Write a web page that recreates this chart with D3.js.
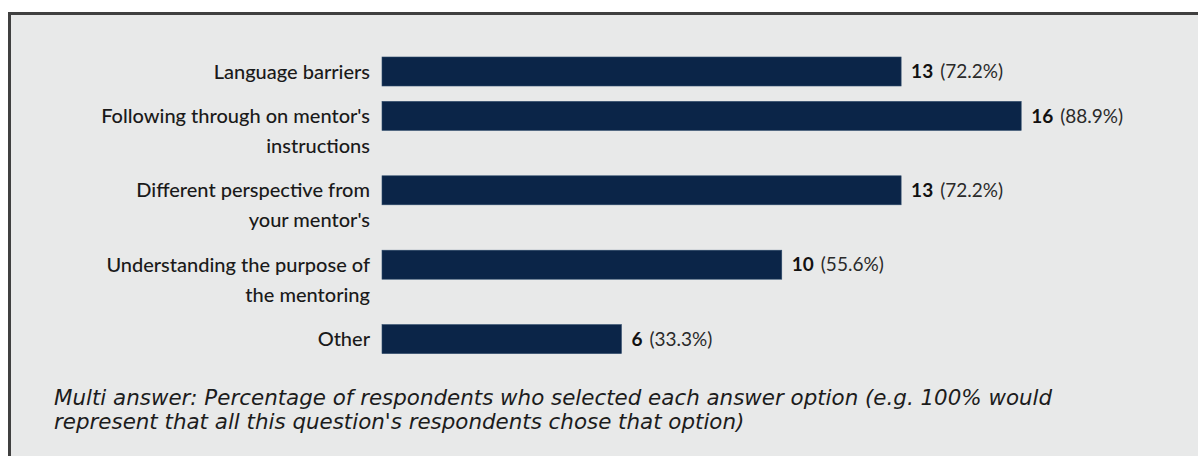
<!DOCTYPE html>
<html>
<head>
<meta charset="utf-8">
<script src="https://cdn.jsdelivr.net/npm/d3@7"></script>
<style>
  body { margin: 0; background: #fff; }
  svg { display: block; }
</style>
</head>
<body>
<div id="chart"></div>
<script>
const categories = ["Language barriers", "Following through on mentor's instructions", "Different perspective from your mentor's", "Understanding the purpose of the mentoring", "Other"];
const labelLines = [
    ["Language barriers"],
    ["Following through on mentor's", "instructions"],
    ["Different perspective from", "your mentor's"],
    ["Understanding the purpose of", "the mentoring"],
    ["Other"]
];
const counts = [13, 16, 13, 10, 6];
const percents = [72.2, 88.9, 72.2, 55.6, 33.3];
const footnote = [
    "Multi answer: Percentage of respondents who selected each answer option (e.g. 100% would",
    "represent that all this question's respondents chose that option)"
];

const width = 1198, height = 456;

const svg = d3.select("#chart")
    .append("svg")
    .attr("width", width)
    .attr("height", height);

// panel with the dark top/left rule
svg.append("rect")
    .attr("x", 9).attr("y", 13)
    .attr("width", width).attr("height", height)
    .attr("fill", "#e8e9e9");
svg.append("line")
    .attr("x1", 9).attr("x2", width).attr("y1", 13.5).attr("y2", 13.5)
    .attr("stroke", "#404040").attr("stroke-width", 3);
svg.append("line")
    .attr("x1", 9.5).attr("x2", 9.5).attr("y1", 12).attr("y2", height)
    .attr("stroke", "#404040").attr("stroke-width", 3);

// row offsets in "line units" – wrapped labels take more room
const gap = 0.48;
const offsets = [];
let acc = 0;
labelLines.forEach(l => { offsets.push(acc); acc += l.length + gap; });

const rows = categories.map((c, i) => ({
    category: c,
    lines: labelLines[i],
    count: counts[i],
    percent: percents[i],
    offset: offsets[i]
}));

const x = d3.scaleLinear().domain([0, 100]).range([382, 1101]);
const y = d3.scaleLinear().domain([0, 1]).range([57, 87]);
const barH = 29;

const row = svg.selectAll(".row")
    .data(rows)
    .enter()
    .append("g")
    .attr("class", "row");

row.append("rect")
    .attr("x", x(0))
    .attr("y", d => y(d.offset))
    .attr("width", d => x(d.percent) - x(0))
    .attr("height", barH)
    .attr("fill", "#0b2548")
    .attr("stroke", "#2d4a6b")
    .attr("stroke-width", 0.6);

row.append("text")
    .attr("text-anchor", "end")
    .style("font-family", "Lato, 'Open Sans', sans-serif")
    .style("font-size", "20px")
    .style("font-weight", 500)
    .style("fill", "#1a1a1a")
    .selectAll("tspan")
    .data(d => d.lines.map((t, k) => ({ t, k, offset: d.offset })))
    .enter()
    .append("tspan")
    .attr("x", 370)
    .attr("y", d => y(d.offset + d.k) + barH / 2)
    .attr("dy", "0.35em")
    .text(d => d.t);

const val = row.append("text")
    .attr("x", d => x(d.percent) + 10)
    .attr("y", d => y(d.offset) + barH / 2)
    .attr("dy", "0.35em")
    .style("font-family", "Lato, 'Open Sans', sans-serif")
    .style("font-size", "19px")
    .style("fill", "#111");
val.append("tspan")
    .style("font-weight", "bold")
    .text(d => d.count);
val.append("tspan")
    .attr("dx", 7)
    .style("fill", "#2a2a2a")
    .text(d => `(${d.percent.toFixed(1)}%)`);

svg.append("text")
    .style("font-family", "'DejaVu Sans', sans-serif")
    .style("font-style", "italic")
    .style("font-size", "21.4px")
    .style("fill", "#1c1c1c")
    .selectAll("tspan")
    .data(footnote)
    .enter()
    .append("tspan")
    .attr("x", 54)
    .attr("y", (d, i) => 405 + i * 24)
    .text(d => d);
</script>
</body>
</html>
